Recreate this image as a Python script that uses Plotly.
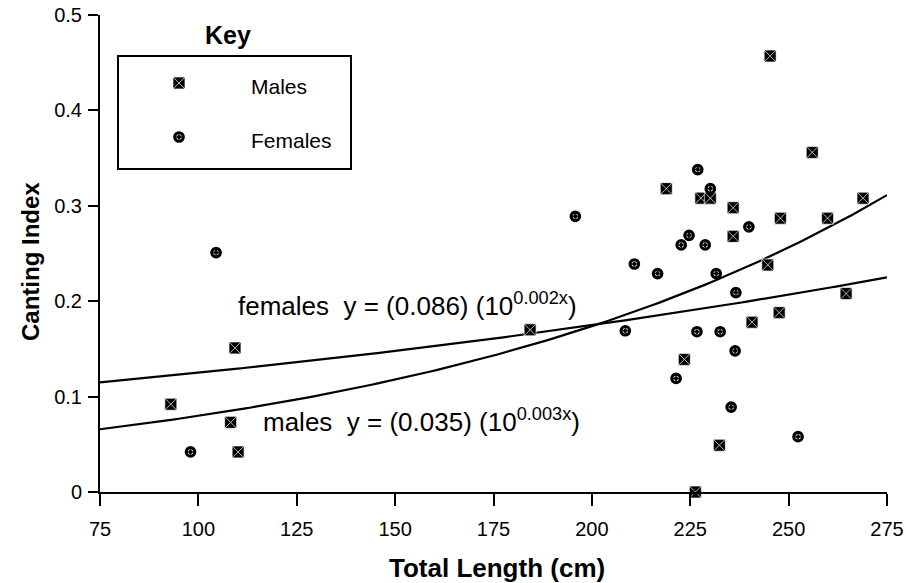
import numpy as np
import plotly.graph_objects as go

# ---------------- data ----------------
male_length = [93.0, 108.2, 110.1, 109.3, 184.3, 218.9, 226.3, 227.7, 230.1, 235.9,
               247.9, 259.9, 268.9, 235.9, 244.7, 264.6, 247.6, 240.7, 223.5, 232.4,
               256.0, 245.3]
male_index = [0.092, 0.073, 0.042, 0.151, 0.170, 0.318, 0.000, 0.308, 0.308, 0.298,
              0.287, 0.287, 0.308, 0.268, 0.238, 0.208, 0.188, 0.178, 0.139, 0.049,
              0.356, 0.457]

female_length = [104.5, 98.0, 195.8, 210.8, 208.5, 226.9, 230.1, 224.7, 222.7, 228.8,
                 239.9, 216.7, 231.6, 236.6, 226.7, 232.6, 236.4, 221.4, 235.4, 252.4]
female_index = [0.251, 0.042, 0.289, 0.239, 0.169, 0.338, 0.318, 0.269, 0.259, 0.259,
                0.278, 0.229, 0.229, 0.209, 0.168, 0.168, 0.148, 0.119, 0.089, 0.058]

# exponential fits y = a * 10^(b x)  (curves as drawn in the reference)
male_fit_a, male_fit_b = 0.0367, 0.003376
female_fit_a, female_fit_b = 0.0894, 0.001457

x_tick_vals = [75, 100, 125, 150, 175, 200, 225, 250, 275]
y_tick_vals = [0, 0.1, 0.2, 0.3, 0.4, 0.5]
y_tick_text = ["0", "0.1", "0.2", "0.3", "0.4", "0.5"]

female_eq = "females  y = (0.086) (10<sup>0.002x</sup>)"
male_eq = "males  y = (0.035) (10<sup>0.003x</sup>)"

# ---------------- layout constants ----------------
W, H = 906, 583
ML, MR, MT, MB = 100, 19, 15, 91
PW, PH = W - ML - MR, H - MT - MB
FONT = "Liberation Sans, Arial, Helvetica, sans-serif"


def px(xp):
    return (xp - ML) / PW


def py(yp):
    return (H - MB - yp) / PH


fit_x = np.linspace(75, 275, 201)
male_fit_y = male_fit_a * 10 ** (male_fit_b * fit_x)
female_fit_y = female_fit_a * 10 ** (female_fit_b * fit_x)

fig = go.Figure()

fig.add_trace(go.Scatter(x=fit_x, y=female_fit_y, mode="lines",
                         line=dict(color="black", width=2.2), showlegend=False,
                         hoverinfo="skip"))
fig.add_trace(go.Scatter(x=fit_x, y=male_fit_y, mode="lines",
                         line=dict(color="black", width=2.2), showlegend=False,
                         hoverinfo="skip"))

male_marker = dict(symbol="square-x", size=12, color="black",
                   line=dict(color="white", width=0.7))
female_marker = dict(symbol="circle-open-dot", size=8.5, color="black",
                     line=dict(color="black", width=3.2))

fig.add_trace(go.Scatter(x=male_length, y=male_index, mode="markers",
                         marker=male_marker, name="Males", showlegend=False,
                         cliponaxis=False))
fig.add_trace(go.Scatter(x=female_length, y=female_index, mode="markers",
                         marker=female_marker, name="Females", showlegend=False,
                         cliponaxis=False))

# key glyphs on a pixel-scaled overlay axis
key_glyph_x = [179]
fig.add_trace(go.Scatter(x=key_glyph_x, y=[83], mode="markers", marker=male_marker,
                         xaxis="x2", yaxis="y2", showlegend=False, hoverinfo="skip"))
fig.add_trace(go.Scatter(x=key_glyph_x, y=[137], mode="markers", marker=female_marker,
                         xaxis="x2", yaxis="y2", showlegend=False, hoverinfo="skip"))

axis_common = dict(showgrid=False, zeroline=False, showline=True, linecolor="black",
                   linewidth=2, ticks="outside", tickcolor="black", tickwidth=2,
                   automargin=False,
                   tickfont=dict(family=FONT, size=20, color="black"))


def note(text, x, y, size, xanchor="center", angle=0):
    return dict(text=text, xref="paper", yref="paper", x=px(x), y=py(y),
                xanchor=xanchor, yanchor="middle", showarrow=False, textangle=angle,
                font=dict(family=FONT, size=size, color="black"))


fig.update_layout(
    width=W, height=H,
    margin=dict(l=ML, r=MR, t=MT, b=MB, autoexpand=False),
    paper_bgcolor="white", plot_bgcolor="white",
    showlegend=False,
    xaxis=dict(range=[75, 275], tickvals=x_tick_vals, ticklen=12,
               ticklabelstandoff=6, **axis_common),
    yaxis=dict(range=[0, 0.5], tickvals=y_tick_vals, ticktext=y_tick_text,
               ticklen=10, ticklabelstandoff=2, **axis_common),
    xaxis2=dict(overlaying="x", range=[ML, W - MR], visible=False, automargin=False),
    yaxis2=dict(overlaying="y", range=[H - MB, MT], visible=False, automargin=False),
    shapes=[dict(type="rect", xref="paper", yref="paper",
                 x0=px(118), x1=px(351), y0=py(169), y1=py(56),
                 line=dict(color="black", width=2))],
    annotations=[
        note("<b>Total Length (cm)</b>", 497, 568, 26),
        note("<b>Canting Index</b>", 30, 262, 24, angle=-90),
        note("<b>Key</b>", 228, 35, 25),
        note("Males", 249, 87, 21, xanchor="left"),
        note("Females", 249, 140, 21, xanchor="left"),
        note(female_eq, 236, 305, 26, xanchor="left"),
        note(male_eq, 261, 420, 26, xanchor="left"),
    ],
)

fig.write_html("out.html",
               config={"displayModeBar": False, "staticPlot": True},
               post_script="document.body.style.margin='0';"
                           "document.body.style.overflow='hidden';")
